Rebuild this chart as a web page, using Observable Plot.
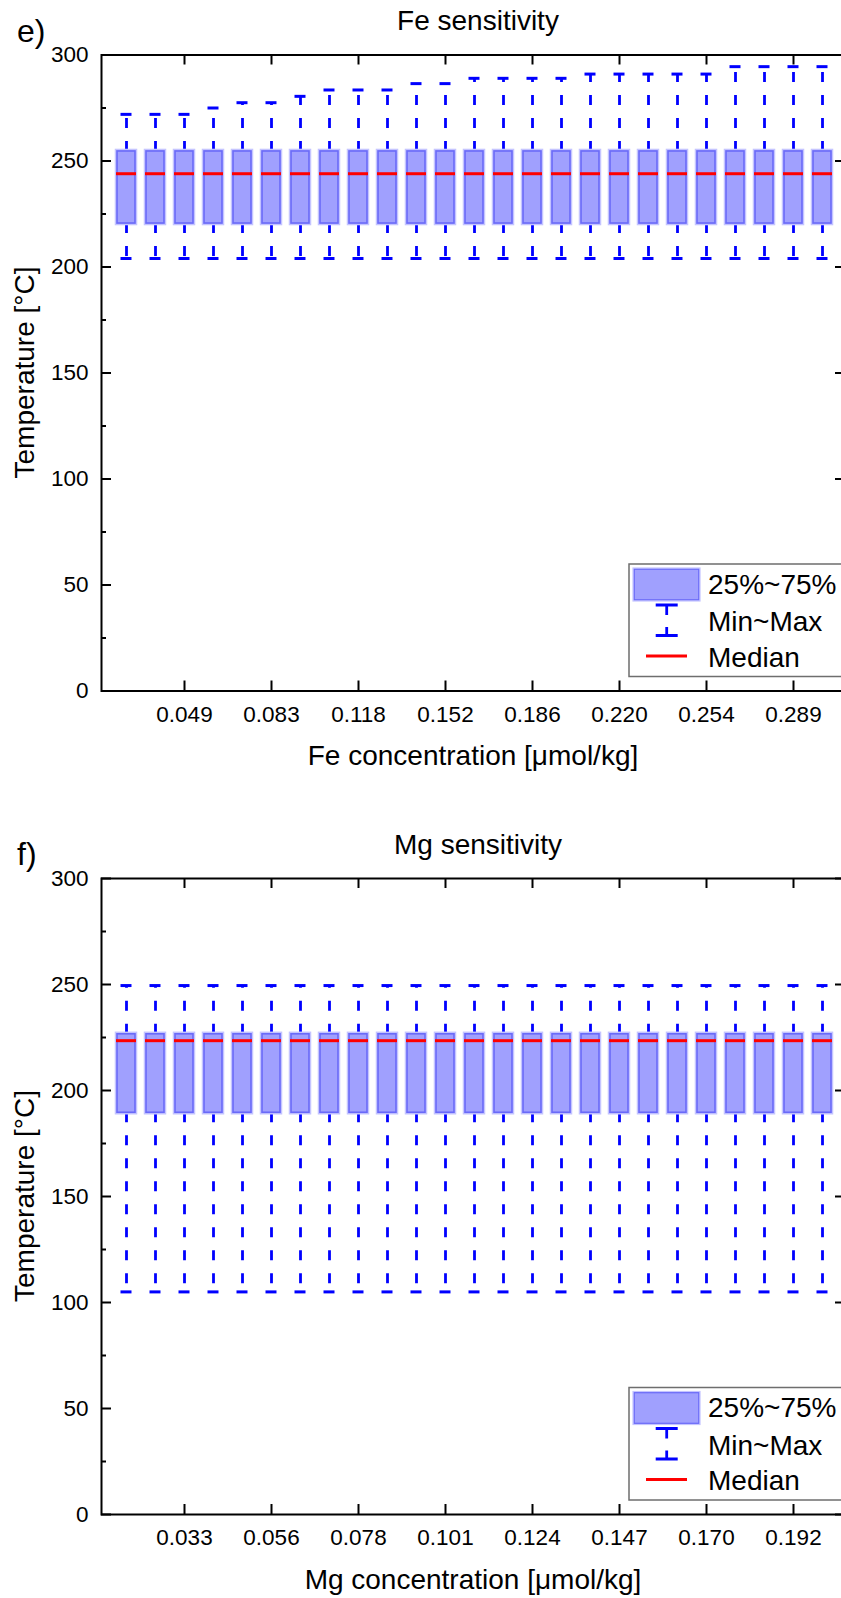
<!DOCTYPE html>
<html>
<head>
<meta charset="utf-8">
<script src="https://cdn.jsdelivr.net/npm/d3@7"></script>
<script src="https://cdn.jsdelivr.net/npm/@observablehq/plot@0.6"></script>
<style>
  html, body { margin: 0; padding: 0; background: #fff; overflow: hidden; }
  #chart { position: relative; width: 841px; height: 1598px; }
  #chart svg { display: block; }
</style>
</head>
<body>
<div id="chart"></div>
<script>
// ---------- Data ----------
const feConc = ["0.026","0.037","0.049","0.060","0.072","0.083","0.095","0.106","0.118","0.129","0.140","0.152","0.163","0.175","0.186","0.197","0.209","0.220","0.231","0.243","0.254","0.266","0.277","0.289","0.300"];
const feMax    = [272, 272, 272, 275, 277.5, 277.5, 280.5, 283.5, 283.5, 283.5, 286.5, 286.5, 289, 289, 289, 289, 291, 291, 291, 291, 291, 294.5, 294.5, 294.5, 294.5];
const feQ3     = [254.5, 254.5, 254.5, 254.5, 254.5, 254.5, 254.5, 254.5, 254.5, 254.5, 254.5, 254.5, 254.5, 254.5, 254.5, 254.5, 254.5, 254.5, 254.5, 254.5, 254.5, 254.5, 254.5, 254.5, 254.5];
const feMedian = [244, 244, 244, 244, 244, 244, 244, 244, 244, 244, 244, 244, 244, 244, 244, 244, 244, 244, 244, 244, 244, 244, 244, 244, 244];
const feQ1     = [220.5, 220.5, 220.5, 220.5, 220.5, 220.5, 220.5, 220.5, 220.5, 220.5, 220.5, 220.5, 220.5, 220.5, 220.5, 220.5, 220.5, 220.5, 220.5, 220.5, 220.5, 220.5, 220.5, 220.5, 220.5];
const feMin    = [204, 204, 204, 204, 204, 204, 204, 204, 204, 204, 204, 204, 204, 204, 204, 204, 204, 204, 204, 204, 204, 204, 204, 204, 204];
const feTickLabels = ["0.049","0.083","0.118","0.152","0.186","0.220","0.254","0.289"];

const mgConc = ["0.018","0.025","0.033","0.040","0.048","0.056","0.063","0.071","0.078","0.086","0.093","0.101","0.109","0.116","0.124","0.132","0.139","0.147","0.154","0.162","0.170","0.177","0.185","0.192","0.200"];
const mgMax    = [249.5, 249.5, 249.5, 249.5, 249.5, 249.5, 249.5, 249.5, 249.5, 249.5, 249.5, 249.5, 249.5, 249.5, 249.5, 249.5, 249.5, 249.5, 249.5, 249.5, 249.5, 249.5, 249.5, 249.5, 249.5];
const mgQ3     = [226.5, 226.5, 226.5, 226.5, 226.5, 226.5, 226.5, 226.5, 226.5, 226.5, 226.5, 226.5, 226.5, 226.5, 226.5, 226.5, 226.5, 226.5, 226.5, 226.5, 226.5, 226.5, 226.5, 226.5, 226.5];
const mgMedian = [223.5, 223.5, 223.5, 223.5, 223.5, 223.5, 223.5, 223.5, 223.5, 223.5, 223.5, 223.5, 223.5, 223.5, 223.5, 223.5, 223.5, 223.5, 223.5, 223.5, 223.5, 223.5, 223.5, 223.5, 223.5];
const mgQ1     = [189.5, 189.5, 189.5, 189.5, 189.5, 189.5, 189.5, 189.5, 189.5, 189.5, 189.5, 189.5, 189.5, 189.5, 189.5, 189.5, 189.5, 189.5, 189.5, 189.5, 189.5, 189.5, 189.5, 189.5, 189.5];
const mgMin    = [105, 105, 105, 105, 105, 105, 105, 105, 105, 105, 105, 105, 105, 105, 105, 105, 105, 105, 105, 105, 105, 105, 105, 105, 105];
const mgTickLabels = ["0.033","0.056","0.078","0.101","0.124","0.147","0.170","0.192"];

const yMajorTicks = [0, 50, 100, 150, 200, 250, 300];
const yMinorTicks = [25, 75, 125, 175, 225, 275];
const legendLabels = ["25%~75%", "Min~Max", "Median"];

// ---------- Drawing ----------
const FONT = "'Liberation Sans', Arial, Helvetica, sans-serif";
const BLUE = "#0000ff";
const W = 841, H = 799, ML = 101;

function panel(opts) {
  const {conc, q1, med, q3, mn, mx, tickLabels, title, letter, xlabel, mt, mb} = opts;
  const data = conc.map((c, i) => ({c, q1: q1[i], med: med[i], q3: q3[i], mn: mn[i], mx: mx[i]}));
  const plotW = W - ML;
  const plotH = H - mt - mb;
  const svg = Plot.plot({
    width: W, height: H,
    marginLeft: ML, marginRight: 0, marginTop: mt, marginBottom: mb,
    style: {fontFamily: FONT, fontSize: "22.5px", color: "black", background: "white", overflow: "hidden"},
    x: {type: "band", domain: conc, range: [108.4, 838.9], paddingInner: 0.384, paddingOuter: 0.192, align: 0.5},
    y: {domain: [0, 300]},
    marks: [
      // whiskers (dashed, drawn from the box outward)
      Plot.ruleX(data, {x: "c", y1: "q3", y2: "mx", stroke: BLUE, strokeWidth: 2.8, strokeDasharray: "10,13"}),
      Plot.ruleX(data, {x: "c", y1: "q1", y2: "mn", stroke: BLUE, strokeWidth: 2.8, strokeDasharray: "10,13"}),
      // caps
      Plot.tickY(data, {x: "c", y: "mx", stroke: BLUE, strokeWidth: 3, insetLeft: 3.5, insetRight: 3.5}),
      Plot.tickY(data, {x: "c", y: "mn", stroke: BLUE, strokeWidth: 3, insetLeft: 3.5, insetRight: 3.5}),
      // boxes: soft halo + body
      Plot.barY(data, {x: "c", y1: "q1", y2: "q3", fill: "none", stroke: "#c4c4ff", strokeWidth: 2.5, insetLeft: -1, insetRight: -1, insetTop: -1, insetBottom: -1}),
      Plot.barY(data, {x: "c", y1: "q1", y2: "q3", fill: "#a0a0fe", stroke: "#6a6af8", strokeWidth: 1.6}),
      // medians
      Plot.tickY(data, {x: "c", y: "med", stroke: "#ff0000", strokeWidth: 3, insetLeft: -1, insetRight: -1}),
      // frame (right edge beyond the picture, as in the reference)
      Plot.frame({stroke: "black", strokeWidth: 2, insetRight: -4}),
      // inward ticks
      Plot.tickY(yMajorTicks, {y: d => d, stroke: "black", strokeWidth: 2, insetRight: plotW - 10}),
      Plot.tickY(yMinorTicks, {y: d => d, stroke: "black", strokeWidth: 2, insetRight: plotW - 5}),
      Plot.tickY(yMajorTicks, {y: d => d, stroke: "black", strokeWidth: 2, insetLeft: plotW - 6}),
      Plot.tickX(tickLabels, {x: d => d, stroke: "black", strokeWidth: 2, insetTop: plotH - 10}),
      Plot.tickX(tickLabels, {x: d => d, stroke: "black", strokeWidth: 2, insetBottom: plotH - 10}),
      // axis labels
      Plot.axisY({ticks: yMajorTicks, tickSize: 0, tickPadding: 13, label: null, fontSize: 22.5}),
      Plot.axisX({ticks: tickLabels, tickSize: 0, tickPadding: 15, label: null, fontSize: 22.5})
    ]
  });

  const T = mt, B = H - mb;
  const g = d3.select(svg).append("g").attr("font-family", FONT).attr("fill", "black").attr("text-anchor", "start");
  g.append("text").attr("x", 478).attr("y", T - 24.5).attr("text-anchor", "middle").attr("font-size", 28).text(title);
  g.append("text").attr("x", 17).attr("y", T - 12.8).attr("text-anchor", "start").attr("font-size", 32).text(letter);
  g.append("text").attr("x", 473).attr("y", B + 74.5).attr("text-anchor", "middle").attr("font-size", 28).text(xlabel);
  g.append("text").attr("transform", `translate(34,${(T + B) / 2}) rotate(-90)`).attr("text-anchor", "middle").attr("font-size", 28).text("Temperature [°C]");

  // legend
  const L = g.append("g");
  L.append("rect").attr("x", 629).attr("y", B - 126.5).attr("width", 240).attr("height", 112.5)
    .attr("fill", "white").attr("stroke", "#6e6e6e").attr("stroke-width", 1.5);
  L.append("rect").attr("x", 634).attr("y", B - 121.5).attr("width", 65).attr("height", 31)
    .attr("fill", "#a0a0fe").attr("stroke", "#6a6af8").attr("stroke-width", 1.6);
  L.append("rect").attr("x", 633).attr("y", B - 122.5).attr("width", 67).attr("height", 33)
    .attr("fill", "none").attr("stroke", "#c4c4ff").attr("stroke-width", 1.2);
  // min~max icon
  const cx = 666.7;
  L.append("line").attr("x1", cx - 11).attr("x2", cx + 11).attr("y1", B - 85.5).attr("y2", B - 85.5).attr("stroke", BLUE).attr("stroke-width", 3);
  L.append("line").attr("x1", cx).attr("x2", cx).attr("y1", B - 85.5).attr("y2", B - 75.5).attr("stroke", BLUE).attr("stroke-width", 2.8);
  L.append("line").attr("x1", cx).attr("x2", cx).attr("y1", B - 63.5).attr("y2", B - 55).attr("stroke", BLUE).attr("stroke-width", 2.8);
  L.append("line").attr("x1", cx - 11).attr("x2", cx + 11).attr("y1", B - 55).attr("y2", B - 55).attr("stroke", BLUE).attr("stroke-width", 3);
  // median icon
  L.append("line").attr("x1", 646).attr("x2", 687).attr("y1", B - 34.5).attr("y2", B - 34.5).attr("stroke", "#ff0000").attr("stroke-width", 3);
  const baselines = [B - 97, B - 59.5, B - 24];
  legendLabels.forEach((t, i) => {
    L.append("text").attr("x", 708).attr("y", baselines[i]).attr("text-anchor", "start").attr("font-size", 28).text(t);
  });
  return svg;
}

const chart = document.getElementById("chart");
chart.appendChild(panel({
  conc: feConc, q1: feQ1, med: feMedian, q3: feQ3, mn: feMin, mx: feMax,
  tickLabels: feTickLabels, title: "Fe sensitivity", letter: "e)",
  xlabel: "Fe concentration [μmol/kg]", mt: 54.5, mb: H - 690.5
}));
chart.appendChild(panel({
  conc: mgConc, q1: mgQ1, med: mgMedian, q3: mgQ3, mn: mgMin, mx: mgMax,
  tickLabels: mgTickLabels, title: "Mg sensitivity", letter: "f)",
  xlabel: "Mg concentration [μmol/kg]", mt: 79, mb: H - 715
}));
</script>
</body>
</html>
